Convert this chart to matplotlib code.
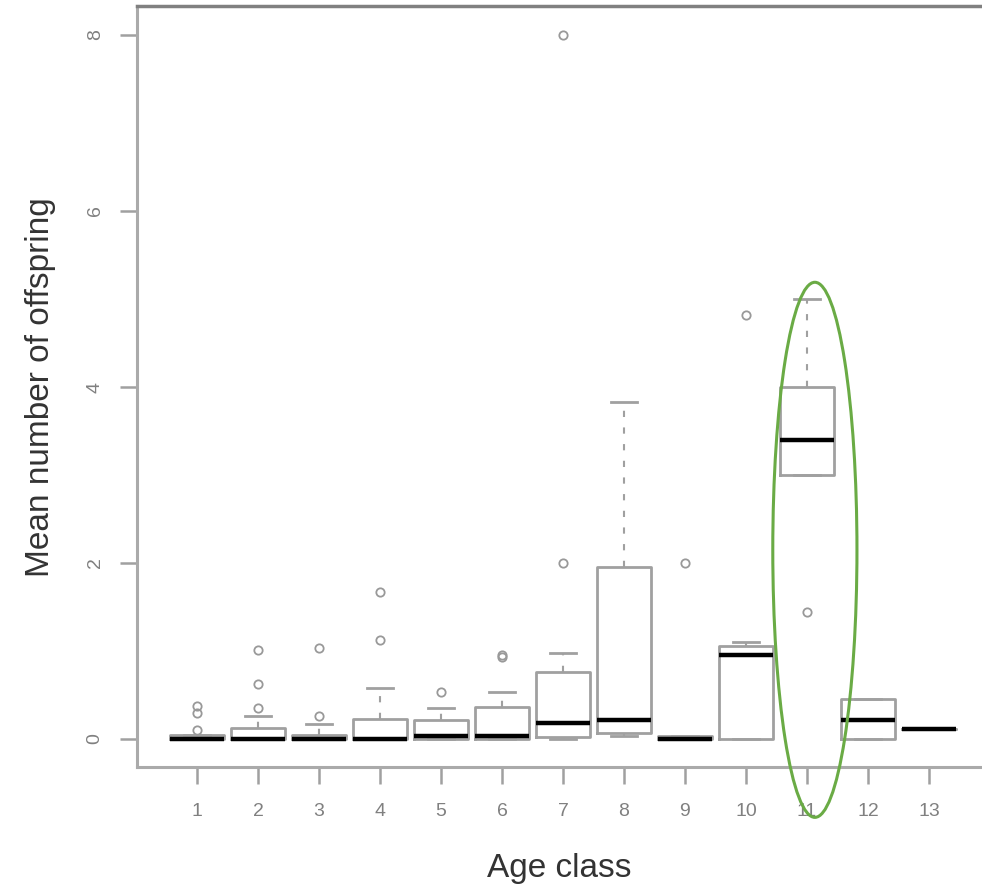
import matplotlib
matplotlib.use("Agg")
import matplotlib.pyplot as plt
from matplotlib.patches import Ellipse

plt.rcParams["font.family"] = ["Liberation Sans", "DejaVu Sans"]

GRAY = "#a0a0a0"
TICK_GRAY = "#808080"
GREEN = "#6aab45"

# box statistics per age class
age_class = list(range(1, 14))
q1 = [0, 0, 0, 0, 0, 0, 0.02, 0.07, 0, 0, 3.0, 0, 0.11]
median = [0, 0, 0, 0, 0.04, 0.04, 0.18, 0.22, 0, 0.95, 3.4, 0.22, 0.11]
q3 = [0.05, 0.13, 0.05, 0.23, 0.22, 0.36, 0.76, 1.96, 0.03, 1.06, 4.0, 0.45, 0.11]
whis_lo = [0, 0, 0, 0, 0, 0, 0, 0.03, 0, 0, 3.0, 0, 0.11]
whis_hi = [0.05, 0.26, 0.17, 0.58, 0.35, 0.54, 0.98, 3.83, 0.03, 1.1, 5.0, 0.45, 0.11]
outliers = [
    [0.1, 0.3, 0.37],
    [0.35, 0.63, 1.01],
    [0.26, 1.03],
    [1.13, 1.67],
    [0.54],
    [0.93, 0.96],
    [2.0, 8.0],
    [],
    [2.0],
    [4.82],
    [1.44],
    [],
    [],
]

stats = []
for i in range(len(age_class)):
    stats.append(dict(q1=q1[i], med=median[i], q3=q3[i],
                      whislo=whis_lo[i], whishi=whis_hi[i],
                      fliers=outliers[i], label=str(age_class[i])))

fig = plt.figure(figsize=(9.82, 8.85), dpi=100)
ax = fig.add_axes([0.1395, 0.1333, 0.8605, 0.8594])

ax.bxp(
    stats,
    positions=age_class,
    widths=0.88,
    capwidths=0.42,
    boxprops=dict(color=GRAY, linewidth=2),
    medianprops=dict(color="black", linewidth=3.2, solid_capstyle="butt"),
    whiskerprops=dict(color=GRAY, linewidth=1.5, linestyle=(0, (3, 5))),
    capprops=dict(color=GRAY, linewidth=2),
    flierprops=dict(marker="o", markersize=6, markerfacecolor="none",
                    markeredgecolor="#999999", markeredgewidth=1.3),
)

# highlight age class 11
ax.add_patch(Ellipse((11.13, 2.15), 1.38, 6.08, fill=False,
                     edgecolor=GREEN, linewidth=2.2, clip_on=False, zorder=5))

ax.set_xlim(0.016, 13.87)
ax.set_ylim(-0.318, 8.324)
ax.set_yticks([0, 2, 4, 6, 8])
ax.set_xticks(age_class)
ax.set_xticklabels([str(a) for a in age_class])
for lab in ax.get_yticklabels():
    lab.set_rotation(90)
    lab.set_va("center")

ax.tick_params(axis="both", colors=GRAY, labelcolor=TICK_GRAY, labelsize=14,
               length=12, width=1.8)
ax.tick_params(axis="y", pad=12)
ax.tick_params(axis="x", pad=14)

for side in ["left", "bottom"]:
    ax.spines[side].set_color("#aaaaaa")
    ax.spines[side].set_linewidth(2.2)
ax.spines["top"].set_color("#808080")
ax.spines["top"].set_linewidth(2.5)
ax.spines["right"].set_visible(False)

ax.set_xlabel("Age class", fontsize=24, color="#333333", labelpad=24)
ax.set_ylabel("Mean number of offspring", fontsize=24, color="#333333", labelpad=22)

fig.savefig("out.png", dpi=100, facecolor="white")
